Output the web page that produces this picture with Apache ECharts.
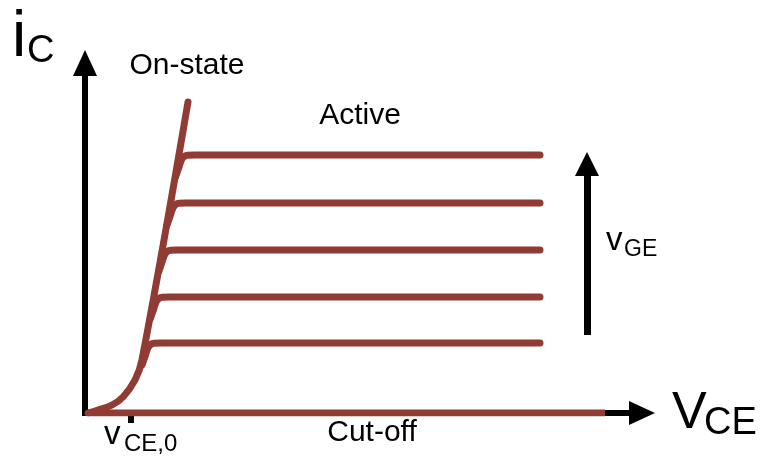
<!DOCTYPE html>
<html>
<head>
<meta charset="utf-8">
<script src="https://cdn.jsdelivr.net/npm/echarts@6/dist/echarts.min.js"></script>
<style>
  html, body { margin: 0; padding: 0; background: #fff; }
  #main { width: 765px; height: 457px; }
</style>
</head>
<body>
<div id="main"></div>
<script>
var xMax = 557, yMax = 350;
// on-state curve (turn-on knee + steep part)
var onState = [[3, 0], [13, 3], [27, 8], [38, 16], [50, 33], [57, 53], [103, 311]];
// active region, one curve per gate voltage (low -> high)
var curve1 = [[57, 48], [60.5, 58], [62.5, 64], [65, 68], [69, 69.7], [76, 70], [455, 70]];
var curve2 = [[65.2, 94], [68.7, 104], [70.7, 110], [73.2, 114], [77.2, 115.7], [84.2, 116], [455, 116]];
var curve3 = [[73.6, 141], [77.1, 151], [79.1, 157], [81.6, 161], [85.6, 162.7], [92.6, 163], [455, 163]];
var curve4 = [[82, 188], [85.5, 198], [87.5, 204], [90, 208], [94, 209.7], [101, 210], [455, 210]];
var curve5 = [[90.5, 236], [94, 246], [96, 252], [98.5, 256], [102.5, 257.7], [109.5, 258], [455, 258]];
// cut-off line on the x axis
var cutOff = [[3, 0], [520, 0]];
// v_CE,0 tick, v_GE arrow
var vce0 = [46];
var vgeArrow = [[502, 78], [502, 249]];

var brown = '#903b33';
var font = '"Liberation Sans", Arial, sans-serif';

function curve(data, cap) {
  return {
    type: 'line',
    data: data,
    smooth: 0.4,
    symbol: 'none',
    silent: true,
    lineStyle: { color: brown, width: 7, cap: cap || 'round', join: 'round' }
  };
}

function label(text, x, y, size, align) {
  return {
    type: 'text',
    x: x,
    y: y,
    style: {
      text: text,
      fill: '#000',
      font: size + 'px ' + font,
      textAlign: align || 'left',
      textVerticalAlign: 'middle'
    }
  };
}

var chart = echarts.init(document.getElementById('main'));
var seriesList = [
  curve(cutOff, 'butt'),
  curve(onState),
  curve(curve1),
  curve(curve2),
  curve(curve3),
  curve(curve4),
  curve(curve5)
];
// v_GE arrow
seriesList[0].markLine = {
  silent: true,
  symbol: ['none', 'triangle'],
  symbolSize: [24, 24],
  label: { show: false },
  lineStyle: { color: '#000', width: 7, type: 'solid' },
  data: [[{ coord: vgeArrow[0] }, { coord: vgeArrow[1] }]]
};

chart.setOption({
  animation: false,
  grid: { left: 85, top: 63, right: 123, bottom: 44 },
  xAxis: {
    type: 'value',
    min: 0,
    max: xMax,
    splitLine: { show: false },
    axisLabel: { show: false },
    axisLine: {
      show: true,
      symbol: ['none', 'triangle'],
      symbolSize: [24, 26],
      lineStyle: { color: '#000', width: 6, cap: 'square' }
    },
    axisTick: {
      show: true,
      customValues: vce0,
      length: 10,
      lineStyle: { color: '#000', width: 6 }
    }
  },
  yAxis: {
    type: 'value',
    min: 0,
    max: yMax,
    splitLine: { show: false },
    axisLabel: { show: false },
    axisTick: { show: false },
    axisLine: {
      show: true,
      symbol: ['none', 'triangle'],
      symbolSize: [24, 26],
      lineStyle: { color: '#000', width: 6, cap: 'square' }
    }
  },
  series: seriesList,
  graphic: [
    label('i', 12, 38, 64),
    label('C', 27, 52, 38),
    label('On-state', 187, 66, 30, 'center'),
    label('Active', 360, 116, 30, 'center'),
    label('Cut-off', 372, 433, 30, 'center'),
    label('V', 672, 414, 52),
    label('CE', 704, 424, 38),
    label('v', 606, 241, 33),
    label('GE', 624, 250, 23),
    label('v', 104, 435, 33),
    label('CE,0', 124, 444, 24)
  ]
});
</script>
</body>
</html>
